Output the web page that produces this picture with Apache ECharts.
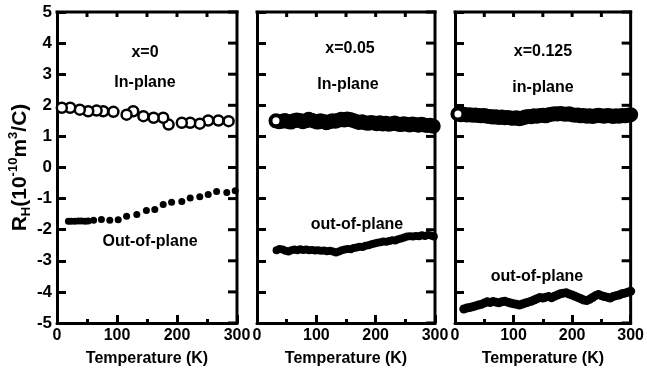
<!DOCTYPE html>
<html>
<head>
<meta charset="utf-8">
<script src="https://cdn.jsdelivr.net/npm/echarts@6/dist/echarts.min.js"></script>
<style>
  html, body { margin: 0; padding: 0; background: #fff; }
  #chart { width: 647px; height: 372px; }
</style>
</head>
<body>
<div id="chart"></div>
<script>
// Hall coefficient R_H vs temperature for three dopings (x = 0, 0.05, 0.125)

const xTicks = [0, 100, 200, 300];
const xTopTicks = [50, 100, 150, 200, 250];
const yTicks = [-5, -4, -3, -2, -1, 0, 1, 2, 3, 4, 5];

// x = 0
const tIn0  = [8, 22, 38, 52, 66, 77, 94, 116, 127, 144, 161, 177, 186, 208, 222, 238, 252, 269, 286];
const rIn0  = [1.92, 1.92, 1.86, 1.81, 1.83, 1.81, 1.79, 1.70, 1.81, 1.65, 1.60, 1.60, 1.38, 1.44, 1.44, 1.41, 1.51, 1.51, 1.49];
const tOut0 = [19, 24, 30, 36, 41, 47, 52, 61, 74, 88, 102, 116, 133, 149, 163, 177, 191, 208, 222, 238, 252, 266, 283, 297];
const rOut0 = [-1.73, -1.73, -1.73, -1.72, -1.72, -1.73, -1.72, -1.70, -1.67, -1.70, -1.68, -1.57, -1.51, -1.38, -1.35, -1.19, -1.12, -1.09, -0.98, -0.94, -0.87, -0.77, -0.80, -0.75];

// x = 0.05
const tIn1  = [32, 37, 42, 47, 52, 57, 62, 67, 72, 77, 82, 87, 92, 97, 102, 107, 112, 117, 122, 127, 132, 137, 142, 147, 152, 157, 162, 167, 172, 177, 182, 187, 192, 197, 202, 207, 212, 217, 222, 227, 232, 237, 242, 247, 252, 257, 262, 267, 272, 277, 282, 287, 292, 297, 302];
const rIn1  = [1.50, 1.47, 1.49, 1.51, 1.48, 1.46, 1.50, 1.53, 1.51, 1.47, 1.50, 1.55, 1.52, 1.49, 1.46, 1.50, 1.48, 1.44, 1.47, 1.50, 1.49, 1.52, 1.55, 1.53, 1.56, 1.54, 1.51, 1.48, 1.45, 1.47, 1.44, 1.42, 1.45, 1.43, 1.41, 1.44, 1.40, 1.42, 1.39, 1.41, 1.43, 1.40, 1.38, 1.41, 1.39, 1.37, 1.40, 1.38, 1.36, 1.39, 1.37, 1.35, 1.36, 1.33, 1.30];
const tOut1 = [33, 38, 43, 48, 53, 58, 63, 68, 73, 78, 83, 88, 93, 98, 103, 108, 113, 118, 123, 128, 133, 138, 143, 148, 153, 158, 163, 168, 173, 178, 183, 188, 193, 198, 203, 208, 213, 218, 223, 228, 233, 238, 243, 248, 253, 258, 263, 268, 273, 278, 283, 288, 293, 298, 303];
const rOut1 = [-2.66, -2.62, -2.64, -2.68, -2.70, -2.66, -2.64, -2.66, -2.63, -2.65, -2.64, -2.66, -2.65, -2.67, -2.66, -2.68, -2.67, -2.69, -2.68, -2.70, -2.73, -2.70, -2.66, -2.64, -2.62, -2.63, -2.59, -2.57, -2.55, -2.56, -2.52, -2.50, -2.47, -2.44, -2.42, -2.40, -2.38, -2.39, -2.36, -2.34, -2.35, -2.31, -2.28, -2.25, -2.22, -2.21, -2.22, -2.20, -2.21, -2.18, -2.20, -2.17, -2.19, -2.22, -2.25];

// x = 0.125
const tIn2  = [5, 10, 15, 20, 25, 30, 35, 40, 45, 50, 55, 60, 65, 70, 75, 80, 85, 90, 95, 100, 105, 110, 115, 120, 125, 130, 135, 140, 145, 150, 155, 160, 165, 170, 175, 180, 185, 190, 195, 200, 205, 210, 215, 220, 225, 230, 235, 240, 245, 250, 255, 260, 265, 270, 275, 280, 285, 290, 295, 300];
const rIn2  = [1.72, 1.70, 1.71, 1.69, 1.70, 1.68, 1.69, 1.67, 1.66, 1.67, 1.65, 1.64, 1.62, 1.63, 1.61, 1.62, 1.60, 1.61, 1.59, 1.58, 1.60, 1.57, 1.59, 1.62, 1.64, 1.63, 1.66, 1.65, 1.67, 1.68, 1.66, 1.70, 1.71, 1.73, 1.72, 1.74, 1.72, 1.71, 1.73, 1.70, 1.68, 1.69, 1.66, 1.67, 1.65, 1.66, 1.64, 1.66, 1.68, 1.66, 1.65, 1.67, 1.66, 1.64, 1.66, 1.65, 1.67, 1.66, 1.68, 1.70];
const tOut2 = [15, 20, 25, 30, 35, 40, 45, 50, 55, 60, 65, 70, 75, 80, 85, 90, 95, 100, 105, 110, 115, 120, 125, 130, 135, 140, 145, 150, 155, 160, 165, 170, 175, 180, 185, 190, 195, 200, 205, 210, 215, 220, 225, 230, 235, 240, 245, 250, 255, 260, 265, 270, 275, 280, 285, 290, 295, 300];
const rOut2 = [-4.55, -4.52, -4.50, -4.48, -4.45, -4.42, -4.40, -4.36, -4.32, -4.34, -4.31, -4.33, -4.35, -4.32, -4.30, -4.33, -4.36, -4.38, -4.40, -4.42, -4.39, -4.36, -4.33, -4.30, -4.26, -4.22, -4.18, -4.20, -4.17, -4.15, -4.19, -4.14, -4.10, -4.06, -4.04, -4.03, -4.07, -4.10, -4.14, -4.18, -4.22, -4.26, -4.28, -4.24, -4.18, -4.12, -4.08, -4.12, -4.15, -4.17, -4.20, -4.15, -4.12, -4.10, -4.06, -4.04, -4.01, -3.98];

const panelLabels = [
  { dop: 'x=0',     inp: 'In-plane', outp: 'Out-of-plane' },
  { dop: 'x=0.05',  inp: 'In-plane', outp: 'out-of-plane' },
  { dop: 'x=0.125', inp: 'in-plane', outp: 'out-of-plane' }
];

const FONT = '"Liberation Sans", Arial, Helvetica, sans-serif';
// pairs listed from high to low temperature (cooling run), so the coldest point is drawn last
const pair = (ts, vs) => ts.map((t, i) => [t, vs[i]]).reverse();

const panels = [
  { left: 57,  width: 180, inp: pair(tIn0, rIn0), outp: pair(tOut0, rOut0), inSize: 10, inBorder: 2.5, outSize: 7 },
  { left: 257, width: 178, inp: pair(tIn1, rIn1), outp: pair(tOut1, rOut1), inSize: 11, inBorder: 4, outSize: 8 },
  { left: 455, width: 180, inp: pair(tIn2, rIn2), outp: pair(tOut2, rOut2), inSize: 11, inBorder: 4, outSize: 9 }
];

const TOP = 12, HEIGHT = 313;
const X_MIN = 0, X_MAX = 300, Y_MIN = -5, Y_MAX = 5;
const frameLine = { show: true, onZero: false, lineStyle: { color: '#000', width: 3 } };
const tickStyle = { color: '#000', width: 3 };

// top and right edges of each frame plus their inward ticks: [x, y, kind]
// kind 0: top tick, 1: right tick, 2: top edge, 3: right edge
const edgeData = [];
xTopTicks.forEach(v => edgeData.push([v, Y_MAX, 0]));
yTicks.forEach(v => edgeData.push([X_MAX, v, 1]));
edgeData.push([X_MIN, Y_MAX, 2]);
edgeData.push([X_MAX, Y_MIN, 3]);

function renderEdge(params, api) {
  const d = edgeData[params.dataIndex];
  const p = api.coord([d[0], d[1]]);
  let q;
  if (d[2] === 0) q = [p[0], p[1] + 5];
  else if (d[2] === 1) q = [p[0] - 9, p[1]];
  else q = api.coord([X_MAX, Y_MAX]);
  return {
    type: 'line',
    shape: { x1: p[0], y1: p[1], x2: q[0], y2: q[1] },
    style: { stroke: '#000', lineWidth: 3, lineCap: d[2] >= 2 ? 'square' : 'butt' }
  };
}

const grid = [], xAxis = [], yAxis = [], series = [], graphic = [];

panels.forEach((p, i) => {
  grid.push({ left: p.left, top: TOP, width: p.width, height: HEIGHT });

  xAxis.push({
    type: 'value', gridIndex: i, min: X_MIN, max: X_MAX, interval: 100,
    axisLine: frameLine,
    axisTick: { show: true, inside: true, length: 8, lineStyle: tickStyle },
    minorTick: { show: true, splitNumber: 2, length: 4, lineStyle: tickStyle },
    splitLine: { show: false }, minorSplitLine: { show: false },
    axisLabel: { show: true, margin: 5, color: '#000', fontFamily: FONT, fontWeight: 'bold', fontSize: 16 },
    name: 'Temperature (K)', nameLocation: 'middle', nameGap: 28,
    nameTextStyle: { color: '#000', fontFamily: FONT, fontWeight: 'bold', fontSize: 16 }
  });

  const yAx = {
    type: 'value', gridIndex: i, min: Y_MIN, max: Y_MAX, interval: 1,
    axisLine: frameLine,
    axisTick: { show: true, inside: true, length: 9, lineStyle: tickStyle },
    splitLine: { show: false },
    axisLabel: { show: i === 0, margin: 5, color: '#000', fontFamily: FONT, fontWeight: 'bold', fontSize: 17 }
  };
  if (i === 0) {
    Object.assign(yAx, {
      name: '{n|R}{s|H}{n|(10}{p|-10}{n|m}{p|3}{n|/C)}',
      nameLocation: 'middle', nameRotate: 90, nameGap: 20,
      nameTextStyle: {
        color: '#000', fontFamily: FONT, fontWeight: 'bold',
        rich: {
          n: { fontSize: 21, fontWeight: 'bold', fontFamily: FONT, color: '#000', lineHeight: 26 },
          p: { fontSize: 13, fontWeight: 'bold', fontFamily: FONT, color: '#000', verticalAlign: 'top', lineHeight: 15 },
          s: { fontSize: 13, fontWeight: 'bold', fontFamily: FONT, color: '#000', verticalAlign: 'bottom', lineHeight: 15 }
        }
      }
    });
  }
  yAxis.push(yAx);

  series.push({
    type: 'custom', xAxisIndex: i, yAxisIndex: i, data: edgeData,
    renderItem: renderEdge, silent: true, clip: false, z: 5
  });
  series.push({
    type: 'scatter', xAxisIndex: i, yAxisIndex: i, data: p.inp,
    symbol: 'circle', symbolSize: p.inSize,
    itemStyle: { color: '#fff', borderColor: '#000', borderWidth: p.inBorder, opacity: 1 },
    silent: true, z: 3
  });
  series.push({
    type: 'scatter', xAxisIndex: i, yAxisIndex: i, data: p.outp,
    symbol: 'circle', symbolSize: p.outSize,
    itemStyle: { color: '#000', opacity: 1 },
    silent: true, z: 3
  });
});

// in-panel annotations
const annPos = [
  { dop: [145, 53], inp: [145, 83], outp: [150, 242] },
  { dop: [350, 49], inp: [348, 85], outp: [357, 225] },
  { dop: [543, 52], inp: [543, 88], outp: [537, 277] }
];
panelLabels.forEach((lab, i) => {
  ['dop', 'inp', 'outp'].forEach(k => {
    graphic.push({
      type: 'text', x: annPos[i][k][0], y: annPos[i][k][1], z: 10,
      style: {
        text: lab[k], fill: '#000', font: 'bold 16px ' + FONT,
        textAlign: 'center', textVerticalAlign: 'middle'
      }
    });
  });
});

const chart = echarts.init(document.getElementById('chart'));
chart.setOption({ animation: false, grid, xAxis, yAxis, series, graphic });
</script>
</body>
</html>
